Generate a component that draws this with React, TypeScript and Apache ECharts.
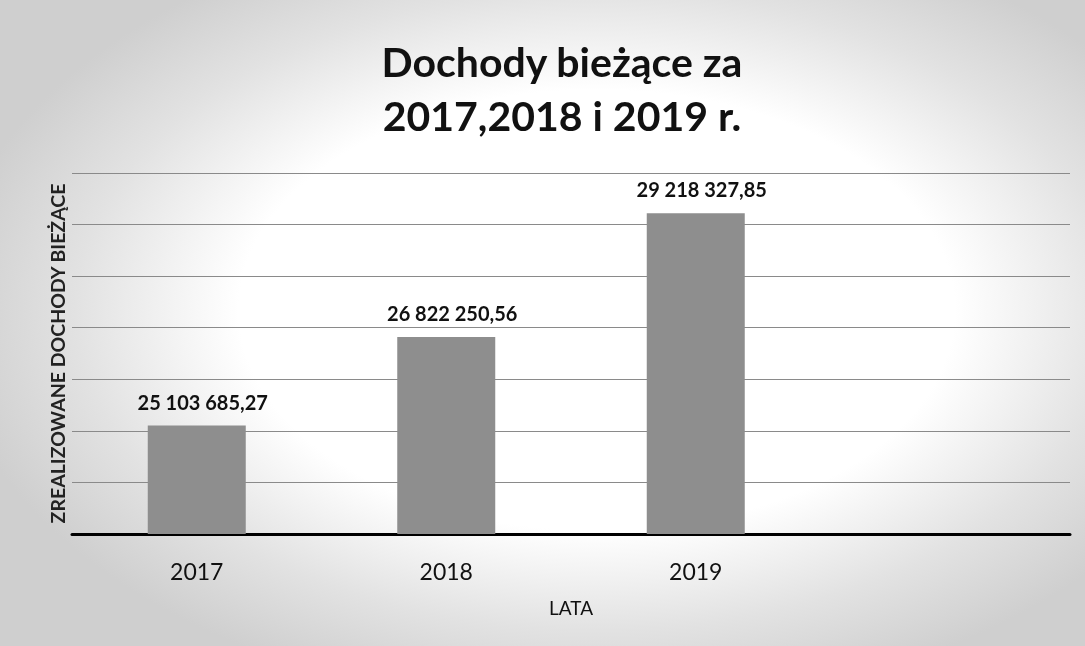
import React, { useEffect, useRef } from "react";
import * as echarts from "echarts";

const categories = ["2017", "2018", "2019", ""];
const values: (number | string)[] = [25103685.27, 26822250.56, 29218327.85, "-"];
const titleLines = ["Dochody bieżące za", "2017,2018 i 2019 r."];
const yAxisName = "ZREALIZOWANE DOCHODY BIEŻĄCE";
const xAxisName = "LATA";

function formatPl(v: number): string {
  const [intPart, dec] = v.toFixed(2).split(".");
  const grouped = intPart.replace(/\B(?=(\d{3})+(?!\d))/g, " ");
  return grouped + "," + dec;
}

export default function App() {
  const ref = useRef<HTMLDivElement>(null);
  useEffect(() => {
    if (!ref.current) return;
    const chart = echarts.init(ref.current, null, { renderer: "svg" });
    chart.setOption({
      animation: false,
      backgroundColor: "transparent",
      title: {
        text: titleLines.join("\n"),
        left: 557,
        textAlign: "center",
        top: 29,
        textStyle: {
          fontFamily: "Lato",
          fontWeight: "bold",
          fontSize: 41,
          lineHeight: 54,
          color: "#111",
        },
      },
      grid: {
        left: 72,
        right: 15,
        top: 173,
        bottom: 112,
        containLabel: false,
        outerBoundsMode: "none",
      },
      xAxis: {
        type: "category",
        data: categories,
        name: xAxisName,
        nameLocation: "middle",
        nameGap: 64,
        nameTextStyle: { fontFamily: "Lato", fontSize: 19, color: "#111" },
        axisLine: { show: true, lineStyle: { color: "#000", width: 3 } },
        axisTick: { show: false },
        axisLabel: {
          fontFamily: "Lato",
          fontSize: 23,
          color: "#111",
          margin: 25,
        },
      },
      yAxis: {
        type: "value",
        min: 23000000,
        max: 30000000,
        interval: 1000000,
        name: yAxisName,
        nameLocation: "middle",
        nameGap: 5,
        nameRotate: 90,
        nameTextStyle: {
          fontFamily: "Lato",
          fontSize: 19.5,
          fontWeight: "bold",
          color: "#222",
        },
        axisLine: { show: false },
        axisTick: { show: false },
        axisLabel: { show: false },
        splitLine: { show: true, lineStyle: { color: "#8a8a8a", width: 1 } },
      },
      series: [
        {
          type: "bar",
          data: values,
          barWidth: 98,
          itemStyle: { color: "#8e8e8e" },
          label: {
            show: true,
            position: "top",
            distance: 14,
            offset: [6, 0],
            fontFamily: "Lato",
            fontWeight: "bold",
            fontSize: 20,
            color: "#111",
            formatter: (p: any) => formatPl(p.value),
          },
        },
      ],
    });
    return () => chart.dispose();
  }, []);
  return (
    <div
      style={{
        position: "fixed",
        left: 0,
        top: 0,
        width: 1085,
        height: 646,
        background:
          "radial-gradient(ellipse 60% 62% at 55% 48%, #ffffff 55%, #e2e2e2 80%, #cfcfcf 100%)",
      }}
    >
      <div ref={ref} style={{ width: 1085, height: 646 }} />
    </div>
  );
}
